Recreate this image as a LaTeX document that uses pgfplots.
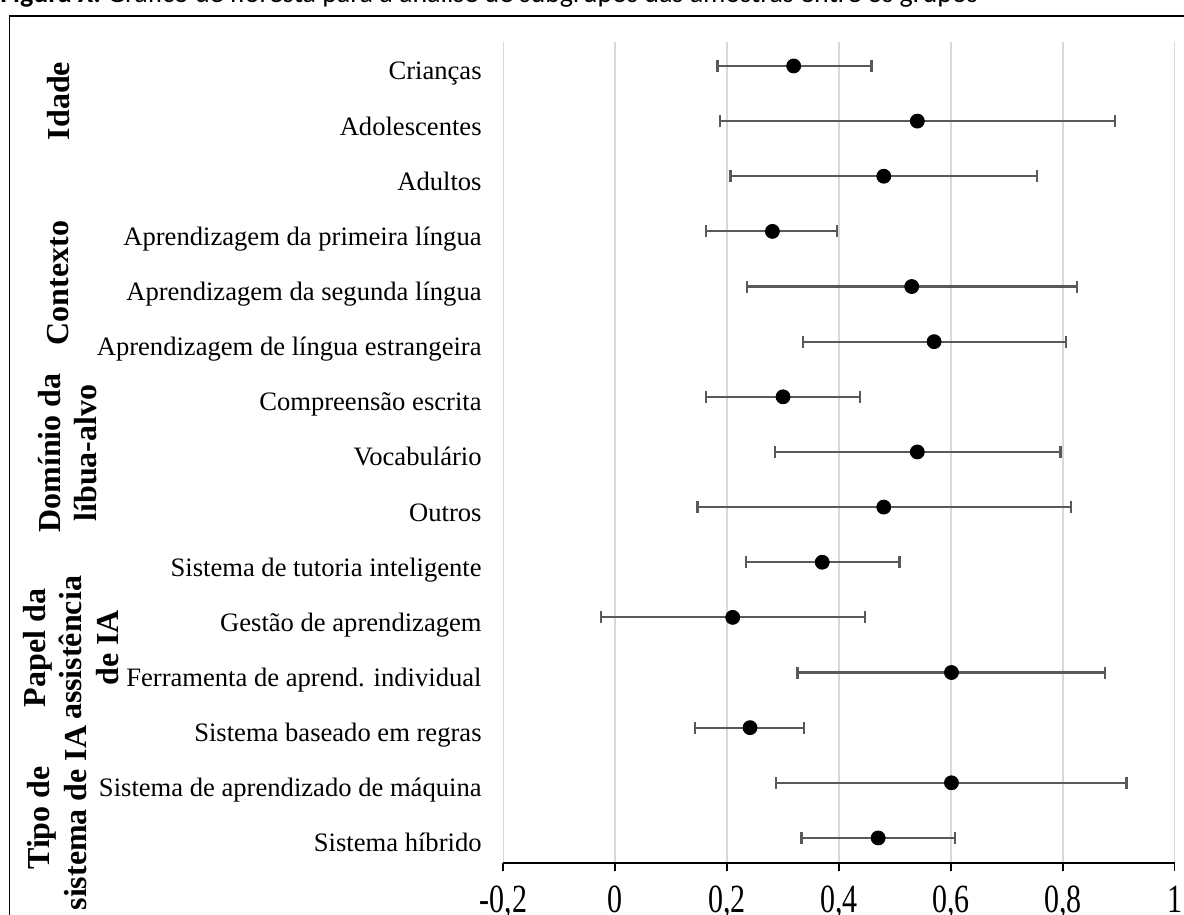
\documentclass[border=0pt]{standalone}
\usepackage{fontspec}
\setmainfont{Liberation Serif}
\newfontfamily\carlito{Carlito}
\usepackage{graphicx}
\usepackage{pgfplots}
\usepackage{pgfplotstable}
\pgfplotsset{compat=1.18}
\definecolor{errgray}{HTML}{595959}
\definecolor{gridgray}{HTML}{D9D9D9}
\pgfplotstableread{
y  x      em     ep
1  0.319  0.136  0.139
2  0.540  0.353  0.353
3  0.480  0.274  0.274
4  0.281  0.118  0.116
5  0.530  0.294  0.295
6  0.570  0.235  0.236
7  0.300  0.137  0.137
8  0.540  0.255  0.256
9  0.480  0.333  0.334
10 0.370  0.136  0.138
11 0.210  0.235  0.236
12 0.601  0.275  0.274
13 0.241  0.099  0.097
14 0.601  0.314  0.313
15 0.470  0.137  0.138
}\datatable
\begin{document}
\begin{tikzpicture}
\draw[line width=0.75pt] (-247pt,-60pt) -- (-247pt,423.65pt) -- (400pt,423.65pt);
\node[anchor=base west, inner sep=0pt, font=\carlito\fontsize{14}{16}\selectfont] at (-251.65pt,430.4pt)
  {\textbf{Figura X:} Gráfico de floresta para a análise de subgrupos das amostras entre os grupos};
\begin{axis}[
  at={(0,0)}, anchor=south west,
  scale only axis, width=335.7pt, height=410.8pt,
  xmin=-0.2, xmax=1, ymin=0.56, ymax=15.46, y dir=reverse,
  axis x line*=bottom, axis y line*=left,
  x axis line style={-, black, line width=1pt},
  y axis line style={draw=none},
  xtick={-0.2,0,0.2,0.4,0.6,0.8,1},
  xmajorgrids, grid style={gridgray, line width=0.75pt},
  tick align=outside, major tick length=4pt,
  x tick style={black, line width=0.8pt},
  y tick style={draw=none},
  /pgf/number format/.cd, use comma, fixed, assume math mode=true,
  /pgfplots/.cd,
  xticklabel={\scalebox{0.75}[1]{\pgfmathprintnumber{\tick}}},
  xticklabel style={font=\fontsize{20}{20}\selectfont, anchor=base, inner sep=0pt, yshift=-20.5pt},
  ytick={1,...,15},
  yticklabels={Crianças, Adolescentes, Adultos, Aprendizagem da primeira língua, Aprendizagem da segunda língua, Aprendizagem de língua estrangeira, Compreensão escrita, Vocabulário, Outros, Sistema de tutoria inteligente, Gestão de aprendizagem, Ferramenta de aprend. individual, Sistema baseado em regras, Sistema de aprendizado de máquina, Sistema híbrido},
  yticklabel style={font=\fontsize{13.3}{15}\selectfont, anchor=base east, inner sep=0pt, xshift=-6.65pt, yshift=-7pt},
  clip=false,
]
\addplot[only marks, mark=*, mark size=3.5pt, black,
  error bars/.cd, x dir=both, x explicit,
  error bar style={errgray, line width=1.1pt},
  error mark options={errgray, line width=1.1pt, mark size=3pt, rotate=90}]
  table[x=x, y=y, x error minus=em, x error plus=ep] {\datatable};
\end{axis}
\node[rotate=90, align=center, inner sep=0pt, font=\bfseries\fontsize{16}{18.2}\selectfont] at (-222.5pt,381.15pt) {Idade};
\node[rotate=90, align=center, inner sep=0pt, font=\bfseries\fontsize{16}{18.2}\selectfont] at (-222.4pt,290.15pt) {Contexto};
\node[rotate=90, align=center, inner sep=0pt, font=\bfseries\fontsize{16}{18.2}\selectfont] at (-217.9pt,205.15pt) {Domínio da\\líbua-alvo};
\node[rotate=90, align=center, inner sep=0pt, font=\bfseries\fontsize{16}{18.2}\selectfont] at (-216.15pt,107.65pt) {Papel da\\assistência\\de IA};
\node[rotate=90, align=center, inner sep=0pt, font=\bfseries\fontsize{16}{18.2}\selectfont] at (-223.15pt,22.65pt) {Tipo de\\sistema de IA};
\pgfresetboundingbox
\useasboundingbox (-251.65pt,-25.85pt) rectangle (340.35pt,431.65pt);
\end{tikzpicture}
\end{document}
